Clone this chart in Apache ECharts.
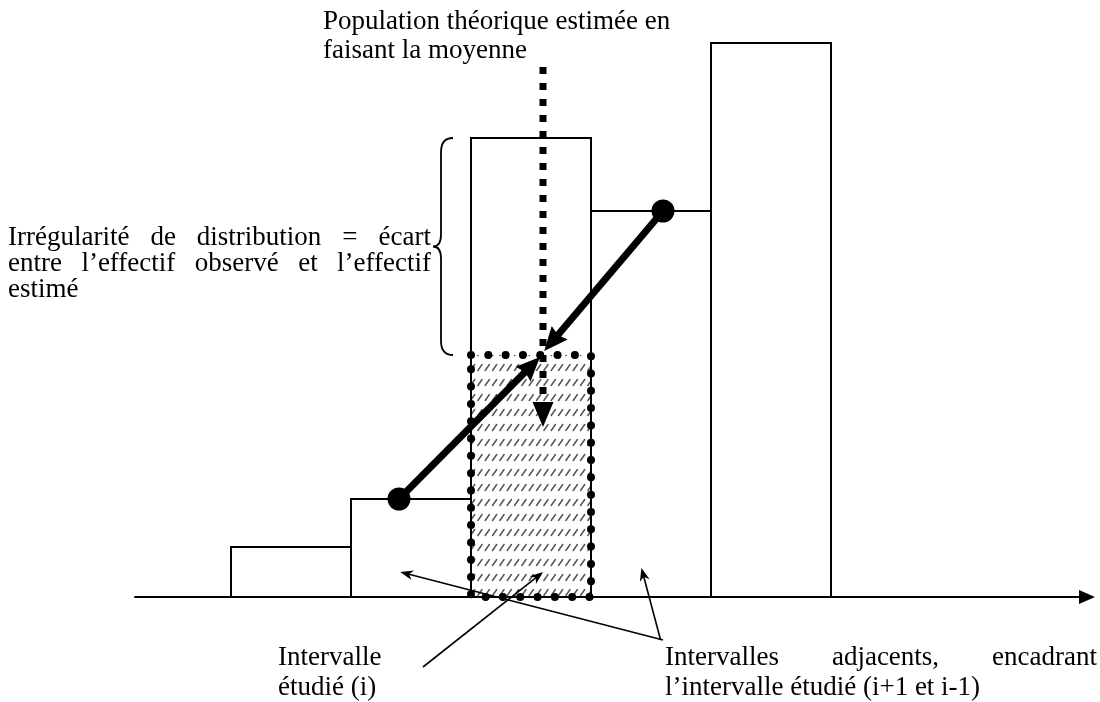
<!DOCTYPE html>
<html><head><meta charset="utf-8">
<script src="https://cdn.jsdelivr.net/npm/echarts@6/dist/echarts.min.js"></script>
<style>html,body{margin:0;padding:0;background:#fff}#c{width:1100px;height:702px}</style>
</head><body><div id="c"></div>
<script>
// ---------------- data ----------------
const binEdges = [1, 2, 3, 4, 5, 6];
const observed = [5.0, 9.8, 45.9, 38.6, 55.4];
const studiedBin = 2;
const estimated = 24.2;
const neighbourPoints = [[2.4, 9.8], [4.6, 38.6]];
const meetPoints = [[3.575, 24.0], [3.61, 24.6]];
const meanLine = [[3.6, 53.0], [3.6, 17.0]];
const braceSpan = [2.75, 45.9, 24.2];
const pointers = [
  [[4.6, -4.3], [2.41, 2.5]],
  [[4.58, -4.3], [4.42, 2.9]],
  [[2.6, -7.0], [3.6, 2.5]]
];
const titleLines = ['Population théorique estimée en', 'faisant la moyenne'];
const irregLines = ['Irrégularité de distribution = écart', 'entre l’effectif observé et l’effectif', 'estimé'];
const studiedLines = ['Intervalle', 'étudié (i)'];
const adjacentLines = ['Intervalles adjacents, encadrant', 'l’intervalle étudié (i+1 et i-1)'];

// ---------------- helpers ----------------
const barData = observed.map((v, i) => [binEdges[i], binEdges[i + 1], v]);
const studiedData = [[binEdges[studiedBin], binEdges[studiedBin + 1], estimated]];

function hatchCanvas() {
  const c = document.createElement('canvas');
  c.width = 22; c.height = 15;
  const g = c.getContext('2d');
  g.strokeStyle = '#555'; g.lineWidth = 1.5; g.lineCap = 'round';
  for (let k = 0; k < 3; k++) {
    const x0 = k * 7.33 + 1.2;
    g.beginPath(); g.moveTo(x0, 10.5); g.lineTo(x0 + 4.2, 4.5); g.stroke();
  }
  return c;
}
const HATCH = hatchCanvas();

function arrow(a, b, lw, headLen, headW, notch, dash) {
  const dx = b[0] - a[0], dy = b[1] - a[1], L = Math.hypot(dx, dy);
  const ux = dx / L, uy = dy / L, nx = -uy, ny = ux;
  const base = [b[0] - ux * headLen, b[1] - uy * headLen];
  const inner = [base[0] + ux * headLen * notch, base[1] + uy * headLen * notch];
  return [
    { type: 'line', shape: { x1: a[0], y1: a[1], x2: inner[0] + ux, y2: inner[1] + uy },
      style: { stroke: '#000', lineWidth: lw, lineDash: dash || null, fill: null } },
    { type: 'polygon', shape: { points: [b, [base[0] + nx * headW / 2, base[1] + ny * headW / 2], inner,
      [base[0] - nx * headW / 2, base[1] - ny * headW / 2]] }, style: { fill: '#000' } }
  ];
}

const FONT_SIZE = 27;
const FONT = FONT_SIZE + 'px "Liberation Serif", "Times New Roman", serif';
const mctx = document.createElement('canvas').getContext('2d');
mctx.font = FONT;
function txt(text, x, y) {
  return { type: 'text', x: x, y: y, z: 50,
    style: { text: text, font: FONT, fill: '#000', align: 'left', verticalAlign: 'middle',
             textAlign: 'left', textVerticalAlign: 'middle' } };
}
function line(text, x, y, justifyWidth) {
  if (!justifyWidth) return [txt(text, x, y)];
  const words = text.split(' ');
  const widths = words.map(w => mctx.measureText(w).width);
  const gap = (justifyWidth - widths.reduce((s, w) => s + w, 0)) / (words.length - 1);
  let cx = x;
  return words.map((w, i) => { const el = txt(w, cx, y); cx += widths[i] + gap; return el; });
}

const graphics = [].concat(
  line(titleLines[0], 323, 22), line(titleLines[1], 323, 51),
  line(irregLines[0], 8, 238, 423), line(irregLines[1], 8, 264, 423), line(irregLines[2], 8, 290),
  line(studiedLines[0], 278, 658), line(studiedLines[1], 278, 688),
  line(adjacentLines[0], 665, 658, 432), line(adjacentLines[1], 665, 688)
);

// ---------------- chart ----------------
const chart = echarts.init(document.getElementById('c'), null, { renderer: 'canvas' });
chart.setOption({
  animation: false,
  backgroundColor: '#fff',
  grid: { left: 135, right: 13, top: 37, bottom: 0 },
  xAxis: {
    type: 'value', min: 0.2, max: 8.1333,
    axisLine: { show: true, onZero: true, symbol: ['none', 'triangle'], symbolSize: [14, 16],
                lineStyle: { color: '#000', width: 2 } },
    axisTick: { show: false }, axisLabel: { show: false }, splitLine: { show: false }
  },
  yAxis: {
    type: 'value', min: -10.5, max: 56, show: false, splitLine: { show: false }
  },
  graphic: graphics,
  series: [
    { // histogram bars
      type: 'custom', z: 2, clip: false, data: barData,
      encode: { x: [0, 1], y: 2 },
      renderItem: function (params, api) {
        const p0 = api.coord([api.value(0), api.value(2)]);
        const p1 = api.coord([api.value(1), 0]);
        return { type: 'rect', shape: { x: p0[0], y: p0[1], width: p1[0] - p0[0], height: p1[1] - p0[1] },
                 style: { fill: '#fff', stroke: '#000', lineWidth: 2 } };
      }
    },
    { // estimated population (hatched, dotted border)
      type: 'custom', z: 3, clip: false, data: studiedData,
      encode: { x: [0, 1], y: 2 },
      renderItem: function (params, api) {
        const p0 = api.coord([api.value(0), api.value(2)]);
        const p1 = api.coord([api.value(1), 0]);
        return { type: 'group', children: [
          { type: 'rect', shape: { x: p0[0] + 1, y: p0[1], width: p1[0] - p0[0] - 2, height: p1[1] - p0[1] },
            style: { fill: { image: HATCH, repeat: 'repeat' } } },
          { type: 'rect', shape: { x: p0[0], y: p0[1], width: p1[0] - p0[0], height: p1[1] - p0[1] },
            style: { fill: null, stroke: '#000', lineWidth: 8, lineDash: [0.01, 17.3], lineCap: 'round' } }
        ] };
      }
    },
    { // mean dotted arrow
      type: 'custom', z: 4, clip: false, data: [[meanLine[0][0], meanLine[0][1], meanLine[1][0], meanLine[1][1]]],
      renderItem: function (params, api) {
        const a = api.coord([api.value(0), api.value(1)]);
        const b = api.coord([api.value(2), api.value(3)]);
        return { type: 'group', children: arrow(a, b, 7, 25, 21, 0, [7, 9]) };
      }
    },
    { // thick arrows from neighbours
      type: 'custom', z: 5, clip: false,
      data: neighbourPoints.map((p, i) => [p[0], p[1], meetPoints[i][0], meetPoints[i][1]]),
      renderItem: function (params, api) {
        const a = api.coord([api.value(0), api.value(1)]);
        const b = api.coord([api.value(2), api.value(3)]);
        return { type: 'group', children: arrow(a, b, 7, 24, 21, 0.12) };
      }
    },
    { // neighbour points
      type: 'scatter', z: 6, data: neighbourPoints, symbolSize: 23,
      itemStyle: { color: '#000', opacity: 1 }
    },
    { // pointer arrows
      type: 'custom', z: 6, clip: false,
      data: pointers.map(p => [p[0][0], p[0][1], p[1][0], p[1][1]]),
      renderItem: function (params, api) {
        const a = api.coord([api.value(0), api.value(1)]);
        const b = api.coord([api.value(2), api.value(3)]);
        return { type: 'group', children: arrow(a, b, 1.6, 13, 10, 0.3) };
      }
    },
    { // brace
      type: 'custom', z: 6, clip: false, data: [braceSpan],
      renderItem: function (params, api) {
        const t = api.coord([api.value(0), api.value(1)]);
        const b = api.coord([api.value(0), api.value(2)]);
        const x = t[0], T = t[1], B = b[1], M = (T + B) / 2;
        const d = 'M' + (x + 12) + ' ' + T + ' Q' + x + ' ' + T + ' ' + x + ' ' + (T + 14) +
          ' L' + x + ' ' + (M - 12) + ' Q' + x + ' ' + M + ' ' + (x - 8) + ' ' + M +
          ' Q' + x + ' ' + M + ' ' + x + ' ' + (M + 12) +
          ' L' + x + ' ' + (B - 14) + ' Q' + x + ' ' + B + ' ' + (x + 12) + ' ' + B;
        return { type: 'path', shape: { pathData: d }, style: { fill: null, stroke: '#000', lineWidth: 1.8 } };
      }
    }
  ]
});
</script>
</body></html>
